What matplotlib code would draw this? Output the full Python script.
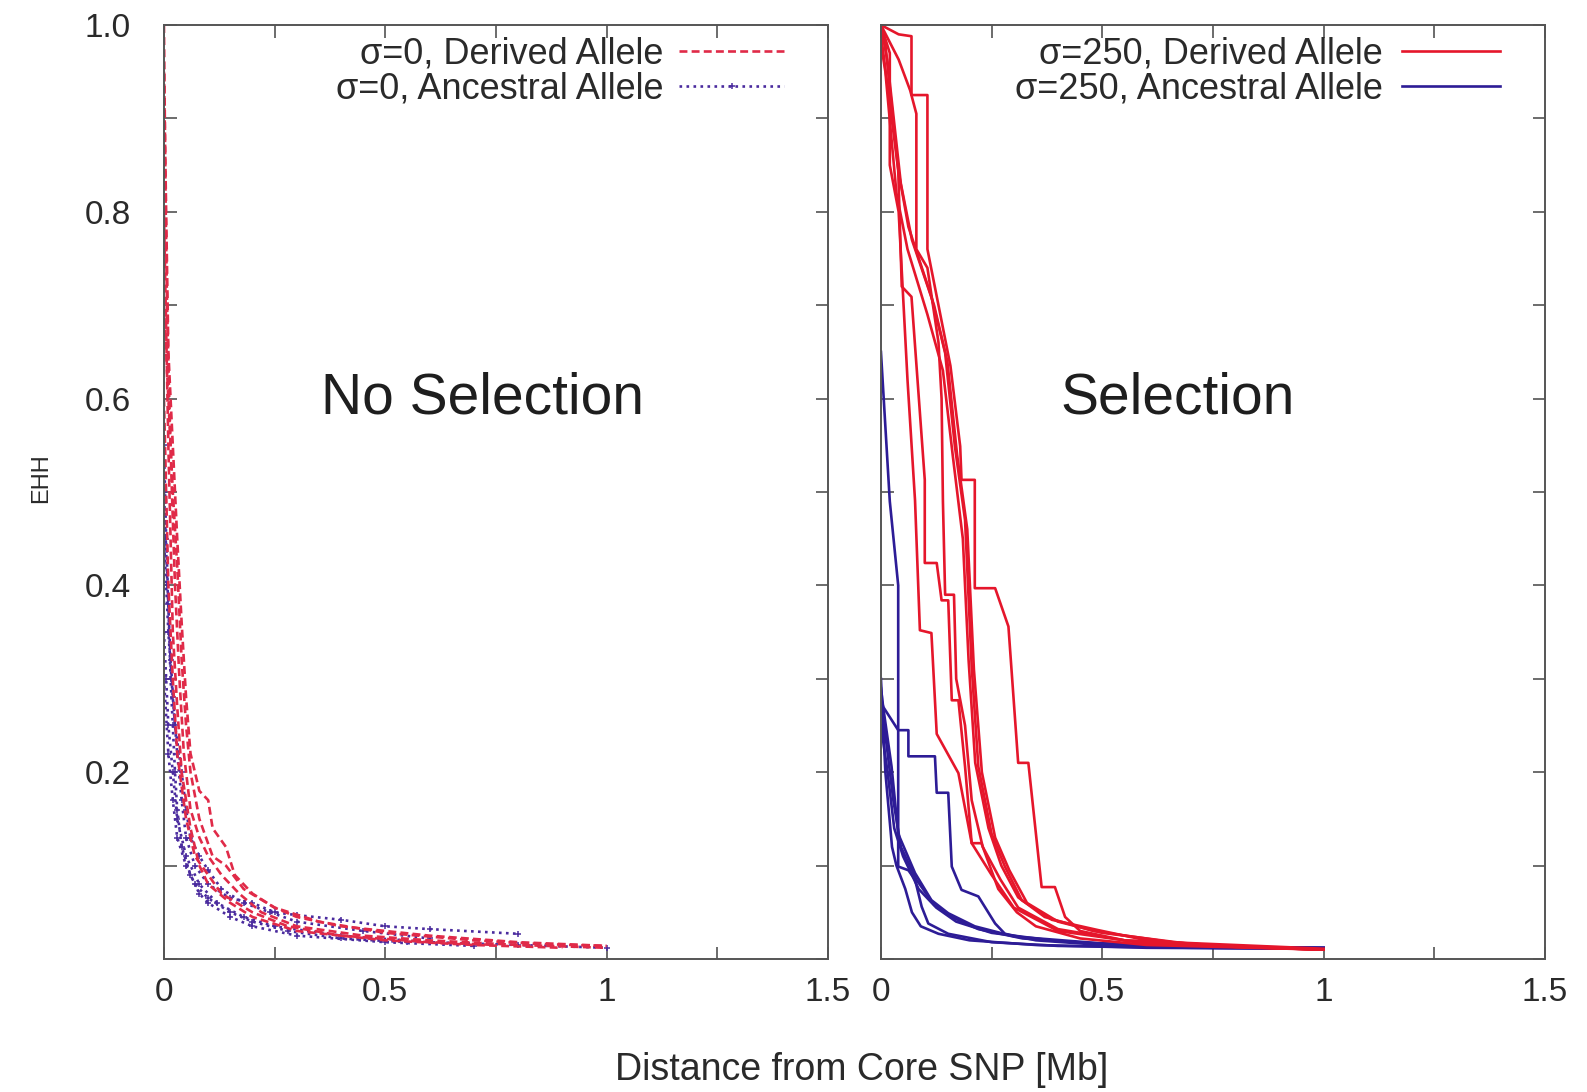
import matplotlib
matplotlib.use("Agg")
import matplotlib.pyplot as plt
from matplotlib.ticker import MultipleLocator, FixedLocator, FixedFormatter

plt.rcParams['font.family'] = ['Liberation Sans', 'DejaVu Sans']

# ---------------- data (distance in Mb, EHH) ----------------
# Left panel: no selection (sigma = 0)
ld1_x = [0, 0.002, 0.004, 0.007, 0.012, 0.018, 0.025, 0.035, 0.045, 0.06, 0.08, 0.1, 0.13, 0.17, 0.22, 0.3, 0.45, 0.6, 0.8, 1.0]
ld1_y = [1.0, 0.9, 0.8, 0.7, 0.6, 0.5, 0.4, 0.3, 0.22, 0.16, 0.13, 0.11, 0.09, 0.07, 0.05, 0.035, 0.025, 0.02, 0.015, 0.012]
ld2_x = [0, 0.005, 0.01, 0.02, 0.03, 0.04, 0.05, 0.06, 0.08, 0.1, 0.11, 0.14, 0.16, 0.2, 0.25, 0.3, 0.4, 0.6, 0.8, 1.0]
ld2_y = [0.95, 0.8, 0.65, 0.55, 0.45, 0.36, 0.28, 0.22, 0.18, 0.17, 0.14, 0.12, 0.09, 0.07, 0.055, 0.045, 0.035, 0.025, 0.018, 0.014]
ld3_x = [0, 0.004, 0.01, 0.015, 0.02, 0.03, 0.04, 0.06, 0.08, 0.1, 0.15, 0.2, 0.3, 0.5, 0.7, 0.9]
ld3_y = [0.8, 0.7, 0.55, 0.45, 0.35, 0.27, 0.2, 0.14, 0.1, 0.08, 0.06, 0.045, 0.03, 0.02, 0.015, 0.012]
ld4_x = [0, 0.01, 0.02, 0.03, 0.04, 0.05, 0.06, 0.08, 0.11, 0.14, 0.18, 0.25, 0.35, 0.5, 0.7, 0.85, 1.0]
ld4_y = [0.7, 0.6, 0.5, 0.42, 0.32, 0.25, 0.2, 0.15, 0.11, 0.1, 0.075, 0.055, 0.04, 0.028, 0.02, 0.016, 0.014]
ld5_x = [0, 0.005, 0.01, 0.02, 0.03, 0.05, 0.07, 0.1, 0.13, 0.2, 0.28, 0.4, 0.6, 0.75]
ld5_y = [0.6, 0.5, 0.4, 0.3, 0.22, 0.15, 0.11, 0.09, 0.07, 0.05, 0.035, 0.025, 0.018, 0.015]

la1_x = [0, 0.005, 0.01, 0.015, 0.02, 0.025, 0.03, 0.04, 0.06, 0.08, 0.1, 0.15, 0.2, 0.3, 0.5, 0.7]
la1_y = [0.55, 0.45, 0.38, 0.3, 0.25, 0.2, 0.16, 0.12, 0.09, 0.07, 0.06, 0.045, 0.035, 0.025, 0.018, 0.014]
la2_x = [0, 0.01, 0.02, 0.03, 0.04, 0.05, 0.07, 0.1, 0.15, 0.2, 0.25, 0.3, 0.4, 0.5, 0.6, 0.8]
la2_y = [0.45, 0.35, 0.28, 0.22, 0.17, 0.13, 0.1, 0.08, 0.065, 0.06, 0.05, 0.047, 0.042, 0.035, 0.032, 0.027]
la3_x = [0, 0.005, 0.01, 0.02, 0.03, 0.05, 0.08, 0.12, 0.18, 0.25, 0.4, 0.6, 0.8, 1.0]
la3_y = [0.35, 0.3, 0.25, 0.2, 0.15, 0.11, 0.08, 0.06, 0.045, 0.035, 0.025, 0.018, 0.015, 0.012]
la4_x = [0, 0.01, 0.02, 0.03, 0.05, 0.07, 0.1, 0.15, 0.2, 0.28, 0.4, 0.55]
la4_y = [0.3, 0.22, 0.17, 0.13, 0.1, 0.08, 0.065, 0.05, 0.04, 0.03, 0.022, 0.018]
la5_x = [0, 0.008, 0.015, 0.025, 0.04, 0.05, 0.06, 0.08, 0.1, 0.13, 0.18, 0.24, 0.3, 0.45, 0.6]
la5_y = [0.5, 0.4, 0.32, 0.25, 0.2, 0.16, 0.13, 0.11, 0.095, 0.075, 0.06, 0.05, 0.04, 0.03, 0.022]

# Right panel: selection (sigma = 250)
rd1_x = [0, 0.02, 0.02, 0.04, 0.06, 0.077, 0.088, 0.114, 0.126, 0.175, 0.205, 0.227, 0.265, 0.307, 0.35, 0.45, 0.6, 1.0]
rd1_y = [1.0, 0.97, 0.85, 0.8, 0.62, 0.491, 0.352, 0.349, 0.241, 0.199, 0.124, 0.124, 0.075, 0.05, 0.035, 0.022, 0.015, 0.01]
rd2_x = [0, 0.039, 0.047, 0.069, 0.099, 0.099, 0.126, 0.137, 0.152, 0.16, 0.175, 0.19, 0.205, 0.25, 0.3, 0.4, 0.55, 1.0]
rd2_y = [0.99, 0.845, 0.72, 0.709, 0.513, 0.424, 0.424, 0.384, 0.384, 0.277, 0.277, 0.206, 0.124, 0.09, 0.055, 0.03, 0.02, 0.011]
rd3_x = [0, 0.04, 0.069, 0.069, 0.105, 0.105, 0.157, 0.179, 0.182, 0.212, 0.212, 0.258, 0.288, 0.31, 0.333, 0.363, 0.393, 0.416, 0.45, 0.55, 0.7, 1.0]
rd3_y = [1.0, 0.99, 0.988, 0.925, 0.925, 0.76, 0.635, 0.549, 0.513, 0.513, 0.397, 0.397, 0.356, 0.21, 0.21, 0.077, 0.077, 0.045, 0.03, 0.02, 0.015, 0.01]
rd4_x = [0, 0.04, 0.066, 0.08, 0.08, 0.105, 0.13, 0.137, 0.14, 0.145, 0.165, 0.17, 0.19, 0.205, 0.23, 0.27, 0.31, 0.4, 0.6, 1.0]
rd4_y = [1.0, 0.963, 0.93, 0.905, 0.76, 0.74, 0.66, 0.6, 0.49, 0.39, 0.39, 0.3, 0.25, 0.17, 0.12, 0.085, 0.055, 0.032, 0.016, 0.01]
rd5_x = [0, 0.009, 0.039, 0.062, 0.114, 0.145, 0.167, 0.19, 0.205, 0.22, 0.25, 0.28, 0.318, 0.386, 0.49, 0.6, 0.8, 1.0]
rd5_y = [0.99, 0.984, 0.845, 0.784, 0.709, 0.649, 0.549, 0.47, 0.313, 0.206, 0.134, 0.099, 0.063, 0.042, 0.031, 0.02, 0.013, 0.01]
rd6_x = [0, 0.015, 0.045, 0.07, 0.12, 0.15, 0.172, 0.195, 0.21, 0.228, 0.258, 0.29, 0.33, 0.4, 0.5, 0.7, 1.0]
rd6_y = [1.0, 0.96, 0.83, 0.77, 0.7, 0.64, 0.54, 0.46, 0.31, 0.2, 0.13, 0.095, 0.06, 0.04, 0.028, 0.016, 0.01]
rd7_x = [0, 0.01, 0.035, 0.06, 0.105, 0.14, 0.162, 0.185, 0.198, 0.213, 0.243, 0.272, 0.31, 0.37, 0.48, 0.7, 1.0]
rd7_y = [0.98, 0.95, 0.82, 0.76, 0.69, 0.63, 0.54, 0.45, 0.32, 0.21, 0.14, 0.1, 0.066, 0.045, 0.03, 0.015, 0.01]

ra1_x = [0, 0.02, 0.039, 0.039, 0.062, 0.077, 0.092, 0.107, 0.152, 0.25, 0.4, 0.7, 1.0]
ra1_y = [0.65, 0.49, 0.4, 0.099, 0.095, 0.085, 0.056, 0.038, 0.027, 0.018, 0.014, 0.012, 0.011]
ra2_x = [0, 0.005, 0.039, 0.062, 0.062, 0.122, 0.126, 0.152, 0.16, 0.182, 0.22, 0.258, 0.28, 0.35, 0.5, 0.75, 1.0]
ra2_y = [0.28, 0.27, 0.245, 0.245, 0.217, 0.217, 0.178, 0.178, 0.099, 0.074, 0.067, 0.038, 0.027, 0.02, 0.015, 0.012, 0.011]
ra3_x = [0, 0.005, 0.024, 0.039, 0.077, 0.114, 0.152, 0.212, 0.302, 0.49, 0.7, 1.0]
ra3_y = [0.29, 0.27, 0.206, 0.134, 0.092, 0.063, 0.049, 0.035, 0.024, 0.017, 0.013, 0.012]
ra4_x = [0, 0.01, 0.028, 0.045, 0.08, 0.12, 0.16, 0.22, 0.32, 0.5, 0.75, 1.0]
ra4_y = [0.27, 0.24, 0.17, 0.12, 0.085, 0.058, 0.045, 0.032, 0.022, 0.016, 0.013, 0.012]
ra5_x = [0, 0.015, 0.03, 0.05, 0.085, 0.125, 0.17, 0.25, 0.4, 0.6, 1.0]
ra5_y = [0.25, 0.2, 0.14, 0.11, 0.075, 0.055, 0.04, 0.028, 0.019, 0.014, 0.012]
ra6_x = [0, 0.01, 0.025, 0.035, 0.055, 0.07, 0.09, 0.13, 0.2, 0.35, 0.6, 1.0]
ra6_y = [0.3, 0.2, 0.12, 0.1, 0.075, 0.05, 0.035, 0.027, 0.02, 0.015, 0.012, 0.011]

left_derived = [(ld1_x, ld1_y), (ld2_x, ld2_y), (ld3_x, ld3_y), (ld4_x, ld4_y), (ld5_x, ld5_y)]
left_ancestral = [(la1_x, la1_y), (la2_x, la2_y), (la3_x, la3_y), (la4_x, la4_y), (la5_x, la5_y)]
right_derived = [(rd1_x, rd1_y), (rd2_x, rd2_y), (rd3_x, rd3_y), (rd4_x, rd4_y),
                 (rd5_x, rd5_y), (rd6_x, rd6_y), (rd7_x, rd7_y)]
right_ancestral = [(ra1_x, ra1_y), (ra2_x, ra2_y), (ra3_x, ra3_y), (ra4_x, ra4_y),
                   (ra5_x, ra5_y), (ra6_x, ra6_y)]

x_ticklabels = ["0", "0.5", "1", "1.5"]
y_ticklabels = ["0.2", "0.4", "0.6", "0.8", "1.0"]

RED = '#e5162b'
BLUE = '#2d1c96'
LRED = '#e02a48'
LBLUE = '#4a2b9e'
TXT = '#2a2a2a'

# ---------------- figure ----------------
fig = plt.figure(figsize=(15.87, 10.92), dpi=100)
axL = fig.add_axes([0.1033, 0.1218, 0.4184, 0.8553])
axR = fig.add_axes([0.5551, 0.1218, 0.4184, 0.8553])

for i, (xs, ys) in enumerate(left_ancestral):
    axL.plot(xs, ys, color=LBLUE, lw=1.9, ls=':', marker='+', ms=5, mew=1.1,
             label='\u03c3=0, Ancestral Allele' if i == 0 else None)
for i, (xs, ys) in enumerate(left_derived):
    axL.plot(xs, ys, color=LRED, lw=1.9, ls=(0, (3, 1.6)),
             label='\u03c3=0, Derived Allele' if i == 0 else None)

for i, (xs, ys) in enumerate(right_ancestral):
    axR.plot(xs, ys, color=BLUE, lw=1.9,
             label='\u03c3=250, Ancestral Allele' if i == 0 else None)
for i, (xs, ys) in enumerate(right_derived):
    axR.plot(xs, ys, color=RED, lw=1.9,
             label='\u03c3=250, Derived Allele' if i == 0 else None)

for ax in (axL, axR):
    ax.set_xlim(0, 1.5)
    ax.set_ylim(0, 1.0)
    ax.xaxis.set_major_locator(MultipleLocator(0.25))
    ax.yaxis.set_major_locator(MultipleLocator(0.1))
    ax.tick_params(direction='in', length=9, width=1.1, top=True, right=True,
                   color='#444444')
    ax.set_xticklabels([])
    for s in ax.spines.values():
        s.set_color('#555555')
        s.set_linewidth(1.4)
    # x labels only on the half-Mb ticks
    sec = ax.secondary_xaxis('bottom')
    sec.xaxis.set_major_locator(FixedLocator([0, 0.5, 1.0, 1.5]))
    sec.xaxis.set_major_formatter(FixedFormatter(x_ticklabels))
    sec.tick_params(length=0, labelsize=24, pad=13, labelcolor=TXT)
    sec.spines['bottom'].set_visible(False)

axL.set_yticklabels([])
secy = axL.secondary_yaxis('left')
secy.yaxis.set_major_locator(FixedLocator([0.2, 0.4, 0.6, 0.8, 1.0]))
secy.yaxis.set_major_formatter(FixedFormatter(y_ticklabels))
secy.tick_params(length=0, labelsize=24, pad=24, labelcolor=TXT)
secy.spines['left'].set_visible(False)
axR.set_yticklabels([])

# legends (labels left, samples right)
hL, lL = axL.get_legend_handles_labels()
legL = axL.legend(hL[::-1], lL[::-1], loc='upper right', bbox_to_anchor=(0.934, 0.988),
                  frameon=False, markerfirst=False, fontsize=26, handlelength=2.9,
                  handletextpad=0.45, labelspacing=0.0, borderpad=0, borderaxespad=0)
hR, lR = axR.get_legend_handles_labels()
legR = axR.legend(hR[::-1], lR[::-1], loc='upper right', bbox_to_anchor=(0.932, 0.988),
                  frameon=False, markerfirst=False, fontsize=26, handlelength=2.7,
                  handletextpad=0.55, labelspacing=0.0, borderpad=0, borderaxespad=0)
for lg in (legL, legR):
    for t in lg.get_texts():
        t.set_color(TXT)

axL.text(0.72, 0.6, 'No Selection', fontsize=41, ha='center', va='center', color='#1e1e1e')
axR.text(0.67, 0.6, 'Selection', fontsize=41, ha='center', va='center', color='#1e1e1e')

fig.text(0.026, 0.562, 'EHH', rotation=90, fontsize=17, ha='center', va='center', color=TXT)
fig.text(0.543, 0.02, 'Distance from Core SNP [Mb]', fontsize=27, ha='center', va='center',
         color=TXT)

fig.savefig('out.png', dpi=100)
